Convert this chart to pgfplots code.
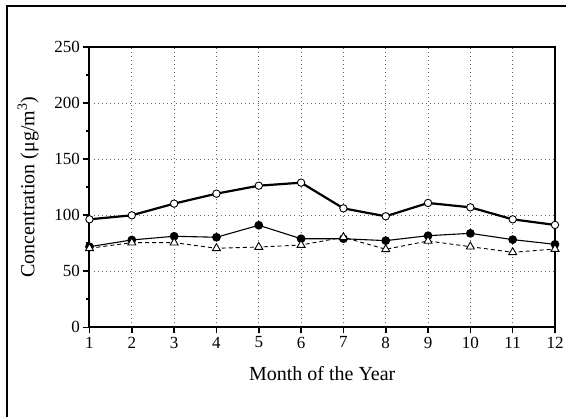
\documentclass[border=0pt]{standalone}
\usepackage{fontspec}
\setmainfont{Liberation Serif}
\usepackage{pgfplots}
\pgfplotsset{compat=1.18}
\begin{document}
\begin{tikzpicture}[x=1pt,y=1pt]
\begin{axis}[
  at={(89.5pt,88.7pt)}, anchor=south west,
  scale only axis, width=465.5pt, height=280.3pt,
  xmin=1, xmax=12, ymin=0, ymax=250,
  xtick={1,...,12}, ytick={0,50,...,250}, minor y tick num=1,
  tick align=outside, tick pos=left,
  major tick length=6pt, minor tick length=3pt,
  axis line style={line width=2pt},
  every tick/.style={black, line width=1.6pt},
  grid=major, grid style={dash pattern=on 0.9pt off 3.2pt, black!60, line width=0.9pt},
  ticklabel style={font=\fontsize{17}{17}\selectfont},
  label style={font=\fontsize{20}{20}\selectfont},
  xlabel={Month of the Year},
  ylabel={Concentration (μg/m\textsuperscript{3})},
  xlabel style={yshift=-11pt},
  ylabel style={yshift=9pt},
  /pgf/number format/assume math mode=true,
  clip=false,
]
% filled circles
\addplot[black, line width=1.1pt, mark=*, mark size=3.8pt] coordinates {
 (1,71.9) (2,77.9) (3,81.2) (4,80.3) (5,91.0) (6,79.0)
 (7,79.0) (8,77.3) (9,81.7) (10,83.8) (11,78.2) (12,74.0)};
% triangles, dashed
\addplot[black, line width=0.9pt, dash pattern=on 4pt off 3pt, mark=triangle*,
  mark size=4.6pt, mark options={solid, fill=white, line width=0.9pt}] coordinates {
 (1,70.5) (2,75.5) (3,75.5) (4,70.5) (5,71.6) (6,73.4)
 (7,80.3) (8,69.6) (9,77.0) (10,71.9) (11,66.9) (12,69.8)};
% open circles, thick
\addplot[black, line width=2.2pt, mark=*, mark size=3.7pt,
  mark options={fill=white, line width=0.9pt}] coordinates {
 (1,96.3) (2,99.9) (3,110.3) (4,119.2) (5,126.3) (6,129.0)
 (7,106.1) (8,99.0) (9,110.9) (10,107.0) (11,96.3) (12,91.3)};
\end{axis}
\draw[line width=2pt] (7,-20) -- (7,410) -- (600,410);
\pgfresetboundingbox
\path[use as bounding box] (0,0) rectangle (566,416);
\end{tikzpicture}
\end{document}
